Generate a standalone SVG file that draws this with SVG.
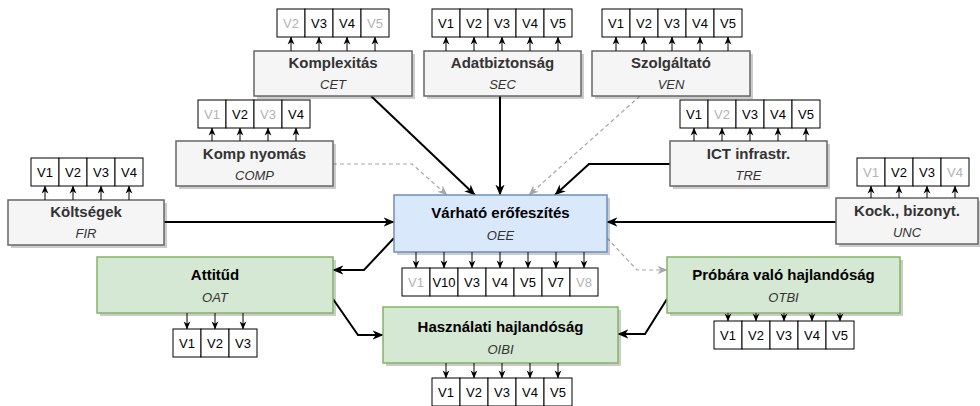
<svg xmlns="http://www.w3.org/2000/svg" width="980" height="406" viewBox="0 0 980 406">
<defs>
<marker id="a" viewBox="0 0 10 10" refX="9.5" refY="5" markerWidth="11" markerHeight="11" markerUnits="userSpaceOnUse" orient="auto"><path d="M0,0.8 L10,5 L0,9.2 L3,5 z" fill="#000"/></marker>
<marker id="g" viewBox="0 0 10 10" refX="9.5" refY="5" markerWidth="10" markerHeight="10" markerUnits="userSpaceOnUse" orient="auto"><path d="M0,0.8 L10,5 L0,9.2 L3,5 z" fill="#a6a6a6"/></marker>
<marker id="s" viewBox="0 0 10 10" refX="9.5" refY="5" markerWidth="8" markerHeight="8" markerUnits="userSpaceOnUse" orient="auto"><path d="M0,0.8 L10,5 L0,9.2 L3,5 z" fill="#000"/></marker>
</defs>
<style>
.fb{fill:#f5f5f5;stroke:#666;stroke-width:1.5}
.ob{fill:#dae8fc;stroke:#6c8ebf;stroke-width:1.5}
.gb{fill:#d5e8d4;stroke:#82b366;stroke-width:1.5}
.sh{fill:#000;fill-opacity:0.2;stroke:none}
.c{fill:#fff;stroke:#000;stroke-width:1}
.t{font-family:"Liberation Sans",Arial,sans-serif;font-size:15px;font-weight:bold;fill:#333;text-anchor:middle}
.to{fill:#000}
.st{font-family:"Liberation Sans",Arial,sans-serif;font-size:13px;font-style:italic;fill:#333;text-anchor:middle}
.ct{font-family:"Liberation Sans",Arial,sans-serif;font-size:13px;fill:#000;text-anchor:middle}
.cg{fill:#b3b3b3}
.sa line{stroke:#000;stroke-width:1;marker-end:url(#s)}
.ml{stroke:#000;stroke-width:2;fill:none;marker-end:url(#a)}
.dl{stroke:#a6a6a6;stroke-width:1.2;stroke-dasharray:4 3;fill:none;marker-end:url(#g)}
</style>

<g id="connectors">
<path class="ml" d="M371,96 L475,195"/>
<path class="ml" d="M500,96 L500,195"/>
<path class="dl" d="M640,96 L529,195"/>
<path class="ml" d="M670,164 L589,164 L555,195"/>
<path class="dl" d="M333,164 L412,164 L447,195"/>
<path class="ml" d="M164,222 L394,222"/>
<path class="ml" d="M836,222 L607,222"/>
<path class="ml" d="M394,238 L364,270 L333,270"/>
<path class="ml" d="M333,299 L358,335 L383,335"/>
<path class="ml" d="M667,299 L645,334 L618,334"/>
<path class="dl" d="M607,238 L637,270 L667,270"/>
</g>

<g id="CET">
<rect class="sh" x="257" y="54" width="158" height="45"/>
<rect class="fb" x="254" y="51" width="158" height="45"/>
<text class="t" x="333" y="68">Komplexitás</text>
<text class="st" x="333" y="89">CET</text>
<rect class="c" x="277" y="9" width="28" height="28"/><text class="ct cg" x="291" y="28">V2</text>
<rect class="c" x="305" y="9" width="28" height="28"/><text class="ct" x="319" y="28">V3</text>
<rect class="c" x="333" y="9" width="28" height="28"/><text class="ct" x="347" y="28">V4</text>
<rect class="c" x="361" y="9" width="28" height="28"/><text class="ct cg" x="375" y="28">V5</text>
<g class="sa"><line x1="291" y1="51" x2="291" y2="37"/><line x1="319" y1="51" x2="319" y2="37"/><line x1="347" y1="51" x2="347" y2="37"/><line x1="375" y1="51" x2="375" y2="37"/></g>
</g>

<g id="SEC">
<rect class="sh" x="427" y="54" width="157" height="45"/>
<rect class="fb" x="424" y="51" width="157" height="45"/>
<text class="t" x="502.5" y="68">Adatbiztonság</text>
<text class="st" x="502.5" y="89">SEC</text>
<rect class="c" x="432" y="9" width="28" height="28"/><text class="ct" x="446" y="28">V1</text>
<rect class="c" x="460" y="9" width="28" height="28"/><text class="ct" x="474" y="28">V2</text>
<rect class="c" x="488" y="9" width="28" height="28"/><text class="ct" x="502" y="28">V3</text>
<rect class="c" x="516" y="9" width="28" height="28"/><text class="ct" x="530" y="28">V4</text>
<rect class="c" x="544" y="9" width="28" height="28"/><text class="ct" x="558" y="28">V5</text>
<g class="sa"><line x1="446" y1="51" x2="446" y2="37"/><line x1="474" y1="51" x2="474" y2="37"/><line x1="502" y1="51" x2="502" y2="37"/><line x1="530" y1="51" x2="530" y2="37"/><line x1="558" y1="51" x2="558" y2="37"/></g>
</g>

<g id="VEN">
<rect class="sh" x="595" y="54" width="158" height="45"/>
<rect class="fb" x="592" y="51" width="158" height="45"/>
<text class="t" x="671" y="68">Szolgáltató</text>
<text class="st" x="671" y="89">VEN</text>
<rect class="c" x="602" y="9" width="28" height="28"/><text class="ct" x="616" y="28">V1</text>
<rect class="c" x="630" y="9" width="28" height="28"/><text class="ct" x="644" y="28">V2</text>
<rect class="c" x="658" y="9" width="28" height="28"/><text class="ct" x="672" y="28">V3</text>
<rect class="c" x="686" y="9" width="28" height="28"/><text class="ct" x="700" y="28">V4</text>
<rect class="c" x="714" y="9" width="28" height="28"/><text class="ct" x="728" y="28">V5</text>
<g class="sa"><line x1="616" y1="51" x2="616" y2="37"/><line x1="644" y1="51" x2="644" y2="37"/><line x1="672" y1="51" x2="672" y2="37"/><line x1="700" y1="51" x2="700" y2="37"/><line x1="728" y1="51" x2="728" y2="37"/></g>
</g>

<g id="COMP">
<rect class="sh" x="179" y="144" width="157" height="45"/>
<rect class="fb" x="176" y="141" width="157" height="45"/>
<text class="t" x="254.5" y="159">Komp nyomás</text>
<text class="st" x="254.5" y="180">COMP</text>
<rect class="c" x="198" y="100" width="28" height="28"/><text class="ct cg" x="212" y="119">V1</text>
<rect class="c" x="226" y="100" width="28" height="28"/><text class="ct" x="240" y="119">V2</text>
<rect class="c" x="254" y="100" width="28" height="28"/><text class="ct cg" x="268" y="119">V3</text>
<rect class="c" x="282" y="100" width="28" height="28"/><text class="ct" x="296" y="119">V4</text>
<g class="sa"><line x1="212" y1="141" x2="212" y2="128"/><line x1="240" y1="141" x2="240" y2="128"/><line x1="268" y1="141" x2="268" y2="128"/><line x1="296" y1="141" x2="296" y2="128"/></g>
</g>

<g id="TRE">
<rect class="sh" x="673" y="144" width="157" height="45"/>
<rect class="fb" x="670" y="141" width="157" height="45"/>
<text class="t" x="748.5" y="159">ICT infrastr.</text>
<text class="st" x="748.5" y="180">TRE</text>
<rect class="c" x="680" y="100" width="28" height="28"/><text class="ct" x="694" y="119">V1</text>
<rect class="c" x="708" y="100" width="28" height="28"/><text class="ct cg" x="722" y="119">V2</text>
<rect class="c" x="736" y="100" width="28" height="28"/><text class="ct" x="750" y="119">V3</text>
<rect class="c" x="764" y="100" width="28" height="28"/><text class="ct" x="778" y="119">V4</text>
<rect class="c" x="792" y="100" width="28" height="28"/><text class="ct" x="806" y="119">V5</text>
<g class="sa"><line x1="694" y1="141" x2="694" y2="128"/><line x1="722" y1="141" x2="722" y2="128"/><line x1="750" y1="141" x2="750" y2="128"/><line x1="778" y1="141" x2="778" y2="128"/><line x1="806" y1="141" x2="806" y2="128"/></g>
</g>

<g id="FIR">
<rect class="sh" x="11" y="203" width="156" height="45"/>
<rect class="fb" x="8" y="200" width="156" height="45"/>
<text class="t" x="86" y="217">Költségek</text>
<text class="st" x="86" y="238">FIR</text>
<rect class="c" x="31" y="158" width="28" height="28"/><text class="ct" x="45" y="177">V1</text>
<rect class="c" x="59" y="158" width="28" height="28"/><text class="ct" x="73" y="177">V2</text>
<rect class="c" x="87" y="158" width="28" height="28"/><text class="ct" x="101" y="177">V3</text>
<rect class="c" x="115" y="158" width="28" height="28"/><text class="ct" x="129" y="177">V4</text>
<g class="sa"><line x1="45" y1="200" x2="45" y2="186"/><line x1="73" y1="200" x2="73" y2="186"/><line x1="101" y1="200" x2="101" y2="186"/><line x1="129" y1="200" x2="129" y2="186"/></g>
</g>

<g id="UNC">
<rect class="sh" x="839" y="201" width="142" height="46"/>
<rect class="fb" x="836" y="198" width="142" height="46"/>
<text class="t" x="907" y="216">Kock., bizonyt.</text>
<text class="st" x="907" y="237">UNC</text>
<rect class="c" x="857" y="158" width="28" height="28"/><text class="ct cg" x="871" y="177">V1</text>
<rect class="c" x="885" y="158" width="28" height="28"/><text class="ct" x="899" y="177">V2</text>
<rect class="c" x="913" y="158" width="28" height="28"/><text class="ct" x="927" y="177">V3</text>
<rect class="c" x="941" y="158" width="28" height="28"/><text class="ct cg" x="955" y="177">V4</text>
<g class="sa"><line x1="871" y1="198" x2="871" y2="186"/><line x1="899" y1="198" x2="899" y2="186"/><line x1="927" y1="198" x2="927" y2="186"/><line x1="955" y1="198" x2="955" y2="186"/></g>
</g>

<g id="OEE">
<rect class="sh" x="397" y="198" width="213" height="57"/>
<rect class="ob" x="394" y="195" width="213" height="57"/>
<text class="t to" x="500.5" y="218">Várható erőfeszítés</text>
<text class="st to" x="500.5" y="240">OEE</text>
<rect class="c" x="402" y="268" width="28" height="28"/><text class="ct cg" x="416" y="287">V1</text>
<rect class="c" x="430" y="268" width="28" height="28"/><text class="ct" x="444" y="287">V10</text>
<rect class="c" x="458" y="268" width="28" height="28"/><text class="ct" x="472" y="287">V3</text>
<rect class="c" x="486" y="268" width="28" height="28"/><text class="ct" x="500" y="287">V4</text>
<rect class="c" x="514" y="268" width="28" height="28"/><text class="ct" x="528" y="287">V5</text>
<rect class="c" x="542" y="268" width="28" height="28"/><text class="ct" x="556" y="287">V7</text>
<rect class="c" x="570" y="268" width="28" height="28"/><text class="ct cg" x="584" y="287">V8</text>
<g class="sa"><line x1="416" y1="252" x2="416" y2="268"/><line x1="444" y1="252" x2="444" y2="268"/><line x1="472" y1="252" x2="472" y2="268"/><line x1="500" y1="252" x2="500" y2="268"/><line x1="528" y1="252" x2="528" y2="268"/><line x1="556" y1="252" x2="556" y2="268"/><line x1="584" y1="252" x2="584" y2="268"/></g>
</g>

<g id="OAT">
<rect class="sh" x="100" y="260" width="236" height="56"/>
<rect class="gb" x="97" y="257" width="236" height="56"/>
<text class="t to" x="215" y="280">Attitűd</text>
<text class="st" x="215" y="302">OAT</text>
<rect class="c" x="173" y="329" width="28" height="28"/><text class="ct" x="187" y="348">V1</text>
<rect class="c" x="201" y="329" width="28" height="28"/><text class="ct" x="215" y="348">V2</text>
<rect class="c" x="229" y="329" width="28" height="28"/><text class="ct" x="243" y="348">V3</text>
<g class="sa"><line x1="187" y1="313" x2="187" y2="329"/><line x1="215" y1="313" x2="215" y2="329"/><line x1="243" y1="313" x2="243" y2="329"/></g>
</g>

<g id="OIBI">
<rect class="sh" x="386" y="310" width="235" height="56"/>
<rect class="gb" x="383" y="307" width="235" height="56"/>
<text class="t to" x="500.5" y="332">Használati hajlandóság</text>
<text class="st" x="500.5" y="354">OIBI</text>
<rect class="c" x="432" y="378" width="28" height="28"/><text class="ct" x="446" y="397">V1</text>
<rect class="c" x="460" y="378" width="28" height="28"/><text class="ct" x="474" y="397">V2</text>
<rect class="c" x="488" y="378" width="28" height="28"/><text class="ct" x="502" y="397">V3</text>
<rect class="c" x="516" y="378" width="28" height="28"/><text class="ct" x="530" y="397">V4</text>
<rect class="c" x="544" y="378" width="28" height="28"/><text class="ct" x="558" y="397">V5</text>
<g class="sa"><line x1="446" y1="363" x2="446" y2="378"/><line x1="474" y1="363" x2="474" y2="378"/><line x1="502" y1="363" x2="502" y2="378"/><line x1="530" y1="363" x2="530" y2="378"/><line x1="558" y1="363" x2="558" y2="378"/></g>
</g>

<g id="OTBI">
<rect class="sh" x="670" y="260" width="233" height="56"/>
<rect class="gb" x="667" y="257" width="233" height="56"/>
<text class="t to" x="783.5" y="280">Próbára való hajlandóság</text>
<text class="st" x="783.5" y="302">OTBI</text>
<rect class="c" x="714" y="321" width="28" height="28"/><text class="ct" x="728" y="340">V1</text>
<rect class="c" x="742" y="321" width="28" height="28"/><text class="ct" x="756" y="340">V2</text>
<rect class="c" x="770" y="321" width="28" height="28"/><text class="ct" x="784" y="340">V3</text>
<rect class="c" x="798" y="321" width="28" height="28"/><text class="ct" x="812" y="340">V4</text>
<rect class="c" x="826" y="321" width="28" height="28"/><text class="ct" x="840" y="340">V5</text>
<g class="sa"><line x1="728" y1="313" x2="728" y2="321"/><line x1="756" y1="313" x2="756" y2="321"/><line x1="784" y1="313" x2="784" y2="321"/><line x1="812" y1="313" x2="812" y2="321"/><line x1="840" y1="313" x2="840" y2="321"/></g>
</g>
</svg>
